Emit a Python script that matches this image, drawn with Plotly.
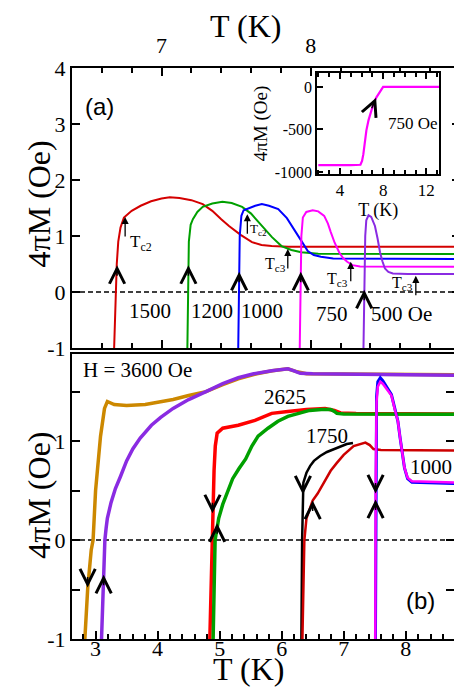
import plotly.graph_objects as go

FONT = "Liberation Serif"
SANS = "Liberation Sans"

# ---------------- panel (a): 4piM vs T for several fields ----------------
a_T_1500 = [6.68, 6.687, 6.692, 6.70, 6.71, 6.725, 6.748, 6.80, 6.86, 6.93, 7.0, 7.055, 7.12, 7.2, 7.276,
            7.34, 7.40, 7.452, 7.53, 7.606, 7.67, 7.738, 7.85, 9.0]
a_M_1500 = [-1.2, -0.5, 0.0, 0.5, 0.9, 1.15, 1.33, 1.45, 1.54, 1.62, 1.67, 1.69, 1.68, 1.64, 1.57,
            1.45, 1.30, 1.18, 1.02, 0.89, 0.84, 0.82, 0.81, 0.81]
a_T_1200 = [7.172, 7.177, 7.183, 7.195, 7.21, 7.24, 7.276, 7.34, 7.408, 7.47, 7.54, 7.60, 7.672, 7.74,
            7.804, 7.87, 7.936, 8.05, 9.0]
a_M_1200 = [-1.2, 0.0, 0.9, 1.2, 1.30, 1.43, 1.52, 1.58, 1.61, 1.59, 1.52, 1.40, 1.18, 0.98,
            0.82, 0.75, 0.71, 0.685, 0.68]
a_T_1000 = [7.513, 7.518, 7.524, 7.535, 7.55, 7.628, 7.672, 7.72, 7.782, 7.84, 7.89, 7.94, 7.98, 8.02,
            8.068, 8.15, 9.0]
a_M_1000 = [-1.2, 0.0, 1.0, 1.36, 1.46, 1.54, 1.57, 1.54, 1.48, 1.32, 1.12, 0.90, 0.73, 0.66,
            0.63, 0.60, 0.59]
a_T_750 = [7.925, 7.93, 7.937, 7.947, 7.97, 8.013, 8.05, 8.09, 8.115, 8.134, 8.16, 8.19, 8.215, 8.244,
           8.28, 8.33, 9.0]
a_M_750 = [-1.2, 0.0, 1.0, 1.33, 1.43, 1.46, 1.44, 1.36, 1.22, 1.07, 0.88, 0.71, 0.61, 0.54,
           0.48, 0.455, 0.45]
a_T_500 = [8.352, 8.358, 8.365, 8.372, 8.387, 8.405, 8.43, 8.448, 8.464, 8.48, 8.497, 8.52, 8.55, 8.65, 9.0]
a_M_500 = [-1.2, 0.0, 1.0, 1.28, 1.37, 1.34, 1.18, 0.95, 0.71, 0.55, 0.42, 0.36, 0.33, 0.32, 0.32]

a_field_labels = ["1500", "1200", "1000", "750", "500 Oe"]
a_label_T = [6.92, 7.337, 7.674, 8.143, 8.605]
a_label_M = [-0.34, -0.34, -0.34, -0.39, -0.39]

# warming-direction chevrons on panel (a)
a_chev_T = [6.702, 7.18, 7.52, 7.933, 8.358]
a_chev_M = [0.48, 0.48, 0.36, 0.36, 0.04]

# Tc2 / Tc3 markers: arrow tip (T, M), label position
tc_text = ["T<sub>c2</sub>", "T<sub>c2</sub>", "T<sub>c3</sub>", "T<sub>c3</sub>", "T<sub>c3</sub>"]
tc_tip_T = [6.756, 7.575, 7.846, 8.268, 8.704]
tc_tip_M = [1.34, 1.39, 0.77, 0.54, 0.29]
tc_lab_T = [6.86, 7.65, 7.766, 8.176, 8.618]
tc_lab_M = [0.88, 1.11, 0.50, 0.23, 0.16]
tc_size = [17, 13, 16, 16, 16]

# inset: 750 Oe over a wide range
in_T = [2.0, 3.0, 4.0, 5.0, 5.9, 6.05, 6.17, 6.3, 6.45, 6.65, 6.9, 7.1, 7.35, 7.7, 8.0, 10.0, 13.2]
in_M = [-918, -920, -919, -920, -915, -870, -790, -650, -510, -390, -280, -200, -128, -50, 0, 0, 0]

# ---------------- panel (b) ----------------
b_T_3600c = [2.80, 2.826, 2.874, 2.93, 2.96, 3.0, 3.03, 3.08, 3.144, 3.19, 3.3, 3.5, 3.8, 4.0, 4.25, 4.5,
             4.78, 5.05, 5.3, 5.6, 5.85, 6.1, 6.25, 6.4, 8.8]
b_M_3600c = [-1.3, -1.0, -0.48, -0.1, 0.0, 0.5, 0.75, 1.05, 1.33, 1.40, 1.37, 1.36, 1.37, 1.39, 1.42, 1.46,
             1.50, 1.57, 1.63, 1.68, 1.71, 1.73, 1.70, 1.68, 1.67]
b_T_3600w = [3.08, 3.096, 3.13, 3.15, 3.17, 3.19, 3.25, 3.32, 3.40, 3.5, 3.6, 3.72, 3.9, 4.05, 4.25, 4.5,
             4.78, 5.05, 5.3, 5.55, 5.84, 6.1, 6.2, 6.3, 6.5, 8.8]
b_M_3600w = [-1.3, -1.0, -0.35, 0.0, 0.12, 0.22, 0.38, 0.52, 0.64, 0.80, 0.92, 1.03, 1.16, 1.24, 1.33, 1.42,
             1.50, 1.58, 1.64, 1.68, 1.71, 1.73, 1.71, 1.685, 1.68, 1.665]
b_T_2625c = [4.83, 4.842, 4.874, 4.885, 4.91, 4.93, 4.96, 5.05, 5.30, 5.57, 5.84, 6.1, 6.4, 6.7, 6.85,
             6.95, 7.2, 8.8]
b_M_2625c = [-1.3, -1.0, 0.0, 0.27, 0.7, 0.95, 1.08, 1.13, 1.16, 1.21, 1.28, 1.30, 1.32, 1.33, 1.31,
             1.285, 1.28, 1.275]
b_T_2625w = [4.88, 4.895, 4.927, 4.95, 4.97, 4.985, 5.05, 5.12, 5.21, 5.31, 5.42, 5.52, 5.62, 5.78, 5.94,
             6.1, 6.26, 6.45, 6.64, 6.79, 6.85, 6.89, 7.0, 8.8]
b_M_2625w = [-1.3, -1.0, 0.0, 0.09, 0.17, 0.22, 0.36, 0.48, 0.62, 0.72, 0.82, 0.95, 1.05, 1.13, 1.20,
             1.25, 1.28, 1.31, 1.32, 1.32, 1.30, 1.28, 1.275, 1.27]
b_T_1750c = [6.31, 6.318, 6.33, 6.34, 6.35, 6.40, 6.46, 6.52, 6.62, 6.73, 6.85, 6.95, 7.05, 7.15]
b_M_1750c = [-1.3, -1.0, 0.0, 0.40, 0.58, 0.68, 0.75, 0.80, 0.85, 0.89, 0.92, 0.95, 0.97, 0.98]
b_T_1750w = [6.325, 6.334, 6.366, 6.40, 6.50, 6.58, 6.68, 6.79, 6.89, 7.0, 7.16, 7.35, 7.42, 7.48, 7.6, 8.8]
b_M_1750w = [-1.3, -1.0, 0.0, 0.22, 0.40, 0.47, 0.58, 0.70, 0.78, 0.86, 0.95, 0.985, 0.96, 0.92, 0.91, 0.905]
b_T_1000c = [7.51, 7.512, 7.514, 7.52, 7.53, 7.55, 7.59, 7.63, 7.70, 7.77, 7.82, 7.874, 7.91, 7.95, 7.98,
             8.03, 8.1, 8.8]
b_M_1000c = [-1.3, -1.0, 0.0, 1.0, 1.45, 1.60, 1.64, 1.61, 1.54, 1.47, 1.34, 1.20, 1.03, 0.86, 0.73,
             0.62, 0.585, 0.57]
b_T_1000w = [7.508, 7.512, 7.514, 7.516, 7.52, 7.53, 7.55, 7.59, 7.63, 7.70, 7.77, 7.82, 7.874, 7.91, 7.95,
             7.98, 8.03, 8.1, 8.8]
b_M_1000w = [-1.3, -1.0, 0.0, 0.6, 1.0, 1.4, 1.55, 1.60, 1.58, 1.52, 1.46, 1.33, 1.20, 1.03, 0.86,
             0.73, 0.63, 0.595, 0.58]

b_labels = ["H = 3600 Oe", "2625", "1750", "1000"]
b_label_T = [3.668, 6.05, 6.73, 8.40]
b_label_M = [1.717, 1.444, 1.05, 0.737]

# cooling (down) and warming (up) chevrons on panel (b)
b_down_T = [2.872, 4.885, 6.343, 7.514]
b_down_M = [-0.48, 0.27, 0.46, 0.47]
b_up_T = [3.13, 4.96, 6.50, 7.514]
b_up_M = [-0.35, 0.17, 0.40, 0.41]

fig = go.Figure()

def line(x, y, color, xa, ya, width=2.0, name=None):
    fig.add_trace(go.Scatter(x=x, y=y, mode="lines", line=dict(color=color, width=width),
                             xaxis=xa, yaxis=ya, showlegend=False, name=name, hoverinfo="x+y"))

# panel (a)
line(a_T_1500, a_M_1500, "#d40000", "x", "y", name="1500 Oe")
line(a_T_1200, a_M_1200, "#00a000", "x", "y", name="1200 Oe")
line(a_T_1000, a_M_1000, "#0000ff", "x", "y", name="1000 Oe")
line(a_T_750, a_M_750, "#ff00ff", "x", "y", name="750 Oe")
line(a_T_500, a_M_500, "#8a2be2", "x", "y", name="500 Oe")

# inset
line(in_T, in_M, "#ff00ff", "x3", "y3", width=2.2, name="750 Oe (inset)")

# panel (b)
line(b_T_3600c, b_M_3600c, "#cc8800", "x2", "y2", width=3.5, name="3600 Oe cooling")
line(b_T_3600w, b_M_3600w, "#8a2be2", "x2", "y2", width=3.5, name="3600 Oe warming")
line(b_T_2625c, b_M_2625c, "#ff0000", "x2", "y2", width=3.5, name="2625 Oe cooling")
line(b_T_2625w, b_M_2625w, "#00a000", "x2", "y2", width=3.5, name="2625 Oe warming")
line(b_T_1750c, b_M_1750c, "#000000", "x2", "y2", width=2.5, name="1750 Oe cooling")
line(b_T_1750w, b_M_1750w, "#cc0000", "x2", "y2", width=2.5, name="1750 Oe warming")
line(b_T_1000c, b_M_1000c, "#0000ff", "x2", "y2", width=3, name="1000 Oe cooling")
line(b_T_1000w, b_M_1000w, "#ff00ff", "x2", "y2", width=2.5, name="1000 Oe warming")

ann = []

def chevron(x, y, xr, yr, up=True, ax=0):
    ann.append(dict(x=x, y=y, xref=xr, yref=yr, text="", showarrow=True, arrowhead=5,
                    arrowsize=2, arrowwidth=1.5, arrowcolor="black", ax=ax, ay=12 if up else -12))

for t, m in zip(a_chev_T, a_chev_M):
    chevron(t, m, "x", "y", True)
for t, m in zip(b_down_T, b_down_M):
    chevron(t, m, "x2", "y2", False)
for t, m in zip(b_up_T, b_up_M):
    chevron(t, m, "x2", "y2", True)
chevron(7.35, -128, "x3", "y3", True, ax=-5)

for txt, t, m in zip(a_field_labels, a_label_T, a_label_M):
    ann.append(dict(x=t, y=m, xref="x", yref="y", text=txt, showarrow=False,
                    font=dict(family=FONT, size=21, color="black")))
for txt, t, m in zip(b_labels, b_label_T, b_label_M):
    ann.append(dict(x=t, y=m, xref="x2", yref="y2", text=txt, showarrow=False,
                    font=dict(family=FONT, size=21, color="black")))

for i in range(len(tc_text)):
    ann.append(dict(x=tc_tip_T[i], y=tc_tip_M[i], xref="x", yref="y", text="", showarrow=True,
                    arrowhead=2, arrowsize=1.1, arrowwidth=1.3, arrowcolor="black", ax=0, ay=21))
    ann.append(dict(x=tc_lab_T[i], y=tc_lab_M[i], xref="x", yref="y", text=tc_text[i], showarrow=False,
                    font=dict(family=FONT, size=tc_size[i], color="black")))

ann.append(dict(x=6.585, y=3.32, xref="x", yref="y", text="(a)", showarrow=False,
                font=dict(family=SANS, size=24, color="black")))
ann.append(dict(x=8.24, y=-0.606, xref="x2", yref="y2", text="(b)", showarrow=False,
                font=dict(family=SANS, size=24, color="black")))
ann.append(dict(x=10.8, y=-430, xref="x3", yref="y3", text="750 Oe", showarrow=False,
                font=dict(family=FONT, size=17, color="black")))

# axis titles
title_font = dict(family=FONT, size=32, color="black")
ann.append(dict(x=0.4467, y=1.074, xref="paper", yref="paper", xanchor="center", yanchor="middle",
                text="T (K)", showarrow=False, font=title_font))
ann.append(dict(x=0.4543, y=-0.052, xref="paper", yref="paper", xanchor="center", yanchor="middle",
                text="T (K)", showarrow=False, font=title_font))
ann.append(dict(x=-0.086, y=0.762, xref="paper", yref="paper", xanchor="center", yanchor="middle",
                text="4πM (Oe)", textangle=-90, showarrow=False, font=title_font))
ann.append(dict(x=-0.086, y=0.252, xref="paper", yref="paper", xanchor="center", yanchor="middle",
                text="4πM (Oe)", textangle=-90, showarrow=False, font=title_font))

a_yticks = [-1, 0, 1, 2, 3, 4]
b_yticks = [-1, 0, 1]
in_yticks = [-1000, -500, 0]

axis_common = dict(showgrid=False, zeroline=False, showline=True, linecolor="black", linewidth=2,
                   ticks="inside", tickcolor="black", tickwidth=1.5, ticklen=8,
                   tickfont=dict(family=FONT, size=22, color="black"))

fig.update_layout(
    width=462, height=689,
    margin=dict(l=64, r=4, t=60, b=58),
    paper_bgcolor="white", plot_bgcolor="white",
    font=dict(family=FONT, color="black"),
    xaxis=dict(axis_common, domain=[0, 1], range=[6.4, 9.0], side="top", anchor="y",
               dtick=1, tick0=0, mirror="ticks", ticklabelstandoff=4,
               minor=dict(dtick=0.2, ticklen=5, tickwidth=1.5, tickcolor="black", ticks="inside")),
    yaxis=dict(axis_common, domain=[0.5096, 1], range=[-1, 4], anchor="x", mirror="ticks",
               tickvals=a_yticks, ticktext=[str(v) for v in a_yticks]),
    xaxis2=dict(axis_common, domain=[0, 0.9848], range=[2.62, 8.78], anchor="y2",
                dtick=1, tick0=0, mirror=True, ticklabelstandoff=-11,
                minor=dict(dtick=0.2, ticklen=5, tickwidth=1.5, tickcolor="black", ticks="inside")),
    yaxis2=dict(axis_common, domain=[0, 0.4991], range=[-1, 1.88], anchor="x2", mirror="ticks",
                tickvals=b_yticks, ticktext=[str(v) for v in b_yticks],
                minor=dict(dtick=0.5, tick0=0, ticklen=8, tickwidth=1.5, tickcolor="black", ticks="inside")),
    xaxis3=dict(axis_common, domain=[0.632, 0.9467], range=[1.9, 13.2], anchor="y3",
                dtick=4, tick0=0, ticklen=6, mirror="ticks",
                tickfont=dict(family=FONT, size=17, color="black"),
                minor=dict(dtick=1, ticklen=4, tickwidth=1.5, tickcolor="black", ticks="inside"),
                title=dict(text="T (K)", font=dict(family=FONT, size=18, color="black"), standoff=2)),
    yaxis3=dict(axis_common, domain=[0.8144, 0.9912], range=[-1023, 163], anchor="x3", mirror=True,
                ticklen=6, tickvals=in_yticks, ticktext=[str(v) for v in in_yticks],
                tickfont=dict(family=FONT, size=16, color="black"),
                title=dict(text="4πM (Oe)", font=dict(family=FONT, size=19, color="black"), standoff=2)),
    annotations=ann,
    shapes=[
        dict(type="line", xref="x domain", yref="y", x0=0, x1=1, y0=0, y1=0,
             line=dict(color="black", width=1.5, dash="5px,3px"), layer="below"),
        dict(type="line", xref="x2 domain", yref="y2", x0=0, x1=1, y0=0, y1=0,
             line=dict(color="black", width=1.5, dash="5px,3px"), layer="below"),
    ],
)

fig.write_html("out.html")
